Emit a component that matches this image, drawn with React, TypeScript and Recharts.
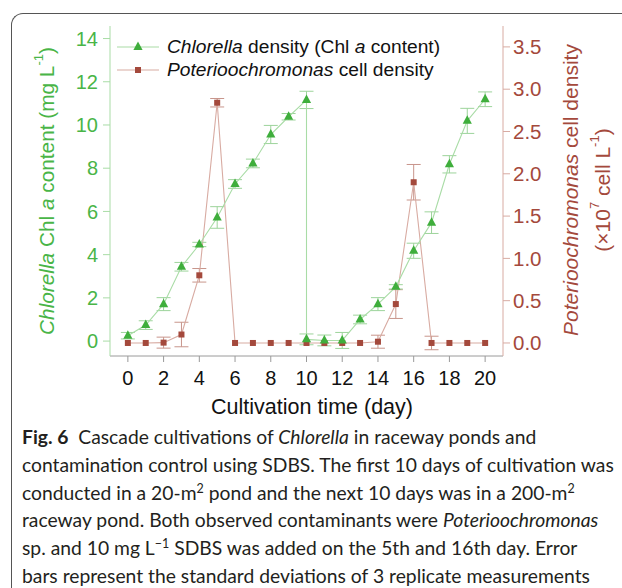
import React from 'react'
import { LineChart, Line, XAxis, YAxis, ErrorBar, Label } from 'recharts'

// Chlorella (left axis, mg/L) — day 10 appears twice: end of 20 m2 pond, start of 200 m2 pond
const chlDays = [0, 1, 2, 3, 4, 5, 6, 7, 8, 9, 10, 10, 11, 12, 13, 14, 15, 16, 17, 18, 19, 20]
const chlValues = [0.25, 0.74, 1.71, 3.44, 4.47, 5.72, 7.27, 8.22, 9.56, 10.38, 11.16, 0.08, 0.03, 0.03, 1.0, 1.71, 2.51, 4.18, 5.48, 8.18, 10.19, 11.19]
const chlErr = [0.15, 0.2, 0.3, 0.2, 0.1, 0.5, 0.2, 0.2, 0.42, 0.15, 0.4, 0.25, 0.25, 0.37, 0.2, 0.3, 0.1, 0.35, 0.5, 0.4, 0.58, 0.34]

// Poterioochromonas (right axis, x10^7 cell/L)
const potDays = [0, 1, 2, 3, 4, 5, 6, 7, 8, 9, 10, 11, 12, 13, 14, 15, 16, 17, 18, 19, 20]
const potValues = [0, 0, 0.004, 0.1, 0.8, 2.84, 0, 0, 0, 0, 0, 0, 0, 0, 0.015, 0.46, 1.9, 0, 0, 0, 0]
const potErr = [0, 0, 0.065, 0.145, 0.08, 0.05, 0, 0, 0, 0, 0, 0, 0, 0, 0.077, 0.17, 0.21, 0.08, 0, 0, 0]

const xTicks = [0, 2, 4, 6, 8, 10, 12, 14, 16, 18, 20]
const leftTicks = [0, 2, 4, 6, 8, 10, 12, 14]
const rightTicks = [0, 0.5, 1, 1.5, 2, 2.5, 3, 3.5]

const chlRows = chlDays.map((d, i) => ({ day: d, v: chlValues[i], e: chlErr[i] }))
const potRows = potDays.map((d, i) => ({ day: d, v: potValues[i], e: potErr[i] }))

const GREEN = '#3fae3c'
const GREEN_TXT = '#49b547'
const GREEN_LINE = '#a9dca6'
const GREEN_ERR = '#9dd49b'
const BROWN = '#a4493c'
const BROWN_LINE = '#d8aba2'
const BROWN_ERR = '#c8958b'
const FONT = '"Liberation Sans", Arial, sans-serif'

const Triangle = (props: any) => {
  const { cx, cy } = props
  if (cx == null || cy == null) return null
  return <polygon points={`${cx},${cy - 5.5} ${cx - 4.6},${cy + 3} ${cx + 4.6},${cy + 3}`} fill={GREEN} />
}

const Square = (props: any) => {
  const { cx, cy } = props
  if (cx == null || cy == null) return null
  return <rect x={cx - 3} y={cy - 3} width={6} height={6} fill={BROWN} />
}

const LeftLabel = () => (
  <text
    x={46}
    y={191}
    transform="rotate(-90, 46, 191)"
    textAnchor="middle"
    dominantBaseline="central"
    fill={GREEN_TXT}
    fontSize={20.8}
    fontFamily={FONT}
  >
    <tspan fontStyle="italic">Chlorella</tspan>
    <tspan> Chl </tspan>
    <tspan fontStyle="italic">a</tspan>
    <tspan> content (mg L</tspan>
    <tspan fontSize={13} dy={-8}>-1</tspan>
    <tspan dy={8}>)</tspan>
  </text>
)

const RightLabel = () => (
  <g fontFamily={FONT} fontSize={21} fill={BROWN}>
    <text x={570} y={190} transform="rotate(-90, 570, 190)" textAnchor="middle" dominantBaseline="central">
      <tspan fontStyle="italic">Poterioochromonas</tspan>
      <tspan> cell density</tspan>
    </text>
    <text x={602} y={190} transform="rotate(-90, 602, 190)" textAnchor="middle" dominantBaseline="central">
      <tspan>(×10</tspan>
      <tspan fontSize={13} dy={-8}>7</tspan>
      <tspan dy={8}> cell L</tspan>
      <tspan fontSize={13} dy={-8}>-1</tspan>
      <tspan dy={8}>)</tspan>
    </text>
  </g>
)

const XLabel = () => (
  <text x={312} y={407} textAnchor="middle" dominantBaseline="central" fontSize={21.5} fontFamily={FONT} fill="#111">
    Cultivation time (day)
  </text>
)

function LegendOverlay() {
  const row = (line: string, marker: React.ReactNode, label: React.ReactNode, top: number) => (
    <div style={{ position: 'absolute', left: 117, top, display: 'flex', alignItems: 'center', height: 22 }}>
      <svg width={42} height={14}>
        <line x1={0} y1={7} x2={42} y2={7} stroke={line} strokeWidth={1.2} />
        {marker}
      </svg>
      <span style={{ marginLeft: 8, fontSize: 19.2, fontFamily: FONT, color: '#111', whiteSpace: 'nowrap' }}>{label}</span>
    </div>
  )
  return (
    <>
      {row(GREEN_LINE, <polygon points="21,1.5 16.4,10 25.6,10" fill={GREEN} />,
        <><i>Chlorella</i> density (Chl <i>a</i> content)</>, 36)}
      {row(BROWN_LINE, <rect x={18} y={4} width={6} height={6} fill={BROWN} />,
        <><i>Poterioochromonas</i> cell density</>, 59)}
    </>
  )
}

export default function App() {
  return (
    <div style={{ position: 'absolute', left: 0, top: 0, width: 622, height: 588, background: '#fff', overflow: 'hidden' }}>
      {/* figure card border */}
      <div
        style={{
          position: 'absolute', left: 11, top: 13, width: 700, height: 700,
          borderTop: '1.5px solid #555', borderLeft: '1.5px solid #555', borderTopLeftRadius: 12,
        }}
      />
      <div style={{ position: 'absolute', left: 0, top: 0 }}>
        <LineChart width={622} height={420} margin={{ top: 26, right: 0, bottom: 0, left: 0 }}>
          <XAxis
            dataKey="day"
            type="number"
            domain={[-1, 21]}
            ticks={xTicks}
            allowDataOverflow
            height={64}
            tickSize={6}
            tickMargin={9}
            stroke="#9a9a9a"
            tick={{ fill: '#111', fontSize: 20, fontFamily: FONT }}
          >
            <Label content={<XLabel />} />
          </XAxis>
          <XAxis xAxisId="top" orientation="top" type="number" domain={[-1, 21]} height={0} tick={false} tickLine={false} stroke="#9a9a9a" />
          <YAxis
            yAxisId="left"
            type="number"
            domain={[-0.69, 14.58]}
            ticks={leftTicks}
            allowDataOverflow
            width={110}
            tickSize={7}
            tickMargin={5}
            stroke={GREEN_LINE}
            tick={{ fill: GREEN_TXT, fontSize: 20, fontFamily: FONT }}
          >
            <Label content={<LeftLabel />} />
          </YAxis>
          <YAxis
            yAxisId="right"
            orientation="right"
            type="number"
            domain={[-0.154, 3.747]}
            ticks={rightTicks}
            allowDataOverflow
            width={119}
            tickSize={7}
            tickMargin={3}
            stroke={BROWN_LINE}
            tickFormatter={(v: number) => v.toFixed(1)}
            tick={{ fill: BROWN, fontSize: 20.5, fontFamily: FONT }}
          >
            <Label content={<RightLabel />} />
          </YAxis>
          <Line
            yAxisId="right"
            data={potRows}
            dataKey="v"
            stroke={BROWN_LINE}
            strokeWidth={1.1}
            dot={<Square />}
            activeDot={false}
            isAnimationActive={false}
          >
            <ErrorBar dataKey="e" direction="y" width={7} stroke={BROWN_ERR} strokeWidth={1} />
          </Line>
          <Line
            yAxisId="left"
            data={chlRows}
            dataKey="v"
            stroke={GREEN_LINE}
            strokeWidth={1.1}
            dot={<Triangle />}
            activeDot={false}
            isAnimationActive={false}
          >
            <ErrorBar dataKey="e" direction="y" width={7} stroke={GREEN_ERR} strokeWidth={1} />
          </Line>
        </LineChart>
      </div>
      <LegendOverlay />
      <div
        style={{
          position: 'absolute', left: 22, top: 423, fontFamily: 'Lato, "Open Sans", sans-serif',
          fontSize: 19.3, lineHeight: '27.8px', color: '#231f20', whiteSpace: 'nowrap',
        }}
      >
        <b>Fig. 6</b>&nbsp; Cascade cultivations of <i>Chlorella</i> in raceway ponds and<br />
        contamination control using SDBS. The first 10 days of cultivation was<br />
        conducted in a 20-m<sup style={{ fontSize: 12.5, lineHeight: 0 }}>2</sup> pond and the next 10 days was in a 200-m<sup style={{ fontSize: 12.5, lineHeight: 0 }}>2</sup><br />
        raceway pond. Both observed contaminants were <i>Poterioochromonas</i><br />
        sp. and 10 mg L<sup style={{ fontSize: 12.5, lineHeight: 0 }}>−1</sup> SDBS was added on the 5th and 16th day. Error<br />
        bars represent the standard deviations of 3 replicate measurements
      </div>
    </div>
  )
}
